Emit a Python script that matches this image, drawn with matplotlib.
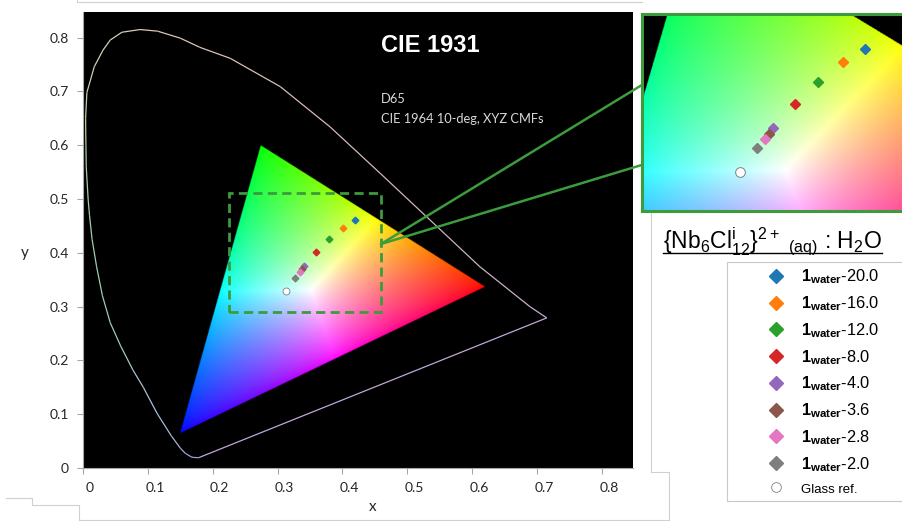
import numpy as np
import matplotlib
matplotlib.use("Agg")
import matplotlib.pyplot as plt
from matplotlib.collections import LineCollection
from matplotlib.colors import LinearSegmentedColormap
from matplotlib.lines import Line2D
from matplotlib.patches import Rectangle, ConnectionPatch
from matplotlib.transforms import ScaledTranslation

plt.rcParams['mathtext.fontset'] = 'custom'
plt.rcParams['mathtext.rm'] = 'Liberation Sans'
plt.rcParams['mathtext.it'] = 'Liberation Sans:italic'
plt.rcParams['mathtext.bf'] = 'Liberation Sans:bold'

W, H = 902, 521

# measured chromaticities (x, y) of the samples
sample_names = ["20.0", "16.0", "12.0", "8.0", "4.0", "3.6", "2.8", "2.0"]
sample_x = [0.420, 0.401, 0.380, 0.360, 0.341, 0.338, 0.334, 0.327]
sample_y = [0.461, 0.447, 0.425, 0.402, 0.376, 0.370, 0.364, 0.354]
sample_colors = ["#1f77b4", "#ff7f0e", "#2ca02c", "#d62728",
                 "#9467bd", "#8c564b", "#e377c2", "#7f7f7f"]
glass_x = [0.3127]
glass_y = [0.3290]

# gamut triangle corners (R, G, B) and its white point as drawn
gamut_x = [0.620, 0.274, 0.1496]
gamut_y = [0.337, 0.600, 0.0645]
gamut_white = (0.352, 0.331)

# spectral locus outline
locus_x = [0.178, 0.168, 0.158, 0.150, 0.136, 0.114, 0.093, 0.077, 0.058, 0.042,
           0.030, 0.021, 0.014, 0.010, 0.008, 0.005, 0.0045, 0.004, 0.006, 0.0174,
           0.031, 0.042, 0.060, 0.088, 0.115, 0.150, 0.180, 0.227, 0.304, 0.381,
           0.458, 0.535, 0.612, 0.689, 0.715, 0.178]
locus_y = [0.019, 0.020, 0.027, 0.037, 0.060, 0.102, 0.150, 0.182, 0.227, 0.270,
           0.320, 0.374, 0.425, 0.470, 0.498, 0.560, 0.600, 0.650, 0.698, 0.746,
           0.777, 0.7955, 0.810, 0.815, 0.812, 0.799, 0.782, 0.7615, 0.709, 0.634,
           0.548, 0.461, 0.374, 0.300, 0.279, 0.019]

zoom_box = (0.2256, 0.2905, 0.4595, 0.5106)
ticks = [0, 0.1, 0.2, 0.3, 0.4, 0.5, 0.6, 0.7, 0.8]
GREEN = "#3c9c3c"


def fx(px):
    return px / W


def fy(py):
    return 1 - py / H


def bary(X, Y):
    (x1, x2, x3), (y1, y2, y3) = gamut_x, gamut_y
    det = (y2 - y3) * (x1 - x3) + (x3 - x2) * (y1 - y3)
    l1 = ((y2 - y3) * (X - x3) + (x3 - x2) * (Y - y3)) / det
    l2 = ((y3 - y1) * (X - x3) + (x1 - x3) * (Y - y3)) / det
    return l1, l2, 1 - l1 - l2


def gamut_image(n=1500, top=0.85):
    g = np.linspace(0, top, n)
    X, Y = np.meshgrid(g, g)
    l1, l2, l3 = bary(X, Y)
    s1, s2, s3 = bary(np.array(gamut_white[0]), np.array(gamut_white[1]))
    rgb = np.stack([l1 / s1, l2 / s2, l3 / s3], axis=-1)
    inside = (l1 >= 0) & (l2 >= 0) & (l3 >= 0)
    rgb = np.clip(rgb, 0, None)
    rgb = rgb / np.maximum(rgb.max(axis=-1, keepdims=True), 1e-9)
    rgb = rgb ** (1 / 1.5)
    return np.dstack([np.clip(rgb, 0, 1), inside.astype(float)]), top


fig = plt.figure(figsize=(W / 100, H / 100), dpi=100)
fig.patch.set_facecolor("white")

img, top = gamut_image()

ax = fig.add_axes([fx(83), fy(468), (633 - 83) / W, (468 - 12) / H])
ax.set_facecolor("black")
ax.imshow(img, extent=(0, top, 0, top), origin="lower", interpolation="bilinear",
          aspect="auto", zorder=1)

# locus outline with soft spectral tint
pts = np.column_stack([locus_x, locus_y])
segs = np.stack([pts[:-1], pts[1:]], axis=1)
loc_cmap = LinearSegmentedColormap.from_list(
    "loc", ["#9a9ad8", "#a8c0dc", "#a0ccb0", "#a8d0a0", "#d0d0b8", "#dcc8b8",
            "#d8b8b8", "#c0a8d8"])
lc = LineCollection(segs, colors=loc_cmap(np.linspace(0, 1, len(segs))),
                    linewidths=0.9, zorder=2)
ax.add_collection(lc)

for sx, sy, c, name in zip(sample_x, sample_y, sample_colors, sample_names):
    ax.plot(sx, sy, "D", color=c, markersize=3.4, zorder=4)
ax.plot(glass_x, glass_y, "o", mfc="white", mec="#808080", mew=0.6,
        markersize=5, zorder=4)

x0, y0, x1, y1 = zoom_box
ax.add_patch(Rectangle((x0, y0), x1 - x0, y1 - y0, fill=False, ec=GREEN, lw=2.0,
                       ls=(0, (3.3, 1.9)), zorder=5))

ax.set_xlim(0, 0.848)
ax.set_ylim(0, 0.8476)
ax.set_xticks(ticks)
ax.set_yticks(ticks)
ax.set_xticklabels([f"{t:g}" for t in ticks])
ax.set_yticklabels([f"{t:g}" for t in ticks])
for s in ["top", "right"]:
    ax.spines[s].set_visible(False)
for s in ["left", "bottom"]:
    ax.spines[s].set_color("#a6a6a6")
    ax.spines[s].set_linewidth(0.8)
ax.tick_params(length=4, width=0.8, color="#a6a6a6", labelcolor="#262626",
               labelsize=10, pad=6.3)
for lbl in ax.get_xticklabels() + ax.get_yticklabels():
    lbl.set_family("Lato")
off = ScaledTranslation(7 / 100, 0, fig.dpi_scale_trans)
for t in ax.xaxis.get_major_ticks():
    t.label1.set_transform(t.label1.get_transform() + off)

ax.set_xlabel("x", family="Lato", fontsize=11, color="#262626")
ax.set_ylabel("y", family="Lato", fontsize=11, color="#262626", rotation=0)
ax.xaxis.set_label_coords((373 - 83) / 550, (468 - 507) / 456)
ax.xaxis.label.set_va("center")
ax.yaxis.set_label_coords((25 - 83) / 550, (468 - 253) / 456)
ax.yaxis.label.set_va("center")
ax.yaxis.label.set_ha("center")

fig.text(fx(380.7), fy(52.3), "CIE 1931", family="Liberation Sans",
         weight="bold", fontsize=17, color="white", va="baseline")
fig.text(fx(380.7), fy(103.3), "D65", family="Lato", fontsize=9.3,
         color="#d9d9d9", va="baseline")
fig.text(fx(380.7), fy(123.3), "CIE 1964 10-deg, XYZ CMFs", family="Lato",
         fontsize=9.3, color="#d9d9d9", va="baseline")

# magnified inset
axin = fig.add_axes([fx(642), fy(211), (904 - 642) / W, (211 - 14) / H])
axin.set_facecolor("black")
axin.imshow(img, extent=(0, top, 0, top), origin="lower", interpolation="bilinear",
            aspect="auto", zorder=1)
for sx, sy, c in zip(sample_x, sample_y, sample_colors):
    axin.plot(sx, sy, "D", color=c, markersize=5.1, zorder=4)
axin.plot(glass_x, glass_y, "o", mfc="white", mec="#808080", mew=0.7,
          markersize=7, zorder=4)
axin.set_xlim(0.2287, 0.2287 + 262 / 1166)
axin.set_ylim(0.2867, 0.2867 + 197 / 929.5)
axin.set_xticks([])
axin.set_yticks([])
for s in axin.spines.values():
    s.set_color(GREEN)
    s.set_linewidth(2.2)

for fr in (0.64, 0.234):
    con = ConnectionPatch(xyA=(x1, 0.4164), coordsA=ax.transData,
                          xyB=(0, fr), coordsB=axin.transAxes,
                          color=GREEN, lw=1.8, zorder=6)
    fig.add_artist(con)

# legend box, title and entries
fig.add_artist(Rectangle((fx(727), fy(501)), (915 - 727) / W, (501 - 262) / H,
                         transform=fig.transFigure, fc="white", ec="#c8c8c8",
                         lw=0.8))
title = fig.text(fx(662.7), fy(249.3),
                 r"{Nb$_{6}$Cl$^{\mathrm{i}}_{12}$}$^{2+}$ ${}_{\mathrm{(aq)}}$ : H$_{2}$O",
                 family="Liberation Sans", fontsize=16.5, color="black", va="baseline")

handles = [Line2D([], [], marker="D", ls="none", color=c, markersize=7.1)
           for c in sample_colors]
handles.append(Line2D([], [], marker="o", ls="none", mfc="white", mec="#808080",
                      mew=0.6, markersize=7))
labels = [r"$\mathbf{1}_{\mathbf{water}}$-" + n for n in sample_names] + ["Glass ref."]
leg = fig.legend(handles, labels, loc="upper left",
                 bbox_to_anchor=(fx(745), fy(253)), frameon=False,
                 borderpad=0.4, handlelength=2, handletextpad=0.5,
                 labelspacing=0.49, prop={"family": "Liberation Sans", "size": 11.8})
leg.get_texts()[-1].set_fontsize(9.5)

# underline for the legend title
fig.canvas.draw()
bb = title.get_window_extent()
fig.add_artist(Line2D([bb.x0 / W, bb.x1 / W], [fy(252.5), fy(252.5)],
                      transform=fig.transFigure, color="black", lw=1.0))

# outline of the pasted panels
frame = [
    ([6, 31.7, 31.7, 79.3, 79.3], [497.7, 497.7, 505, 505, 521]),
    ([79.3, 669], [519.5, 519.5]),
    ([650.7, 650.7, 669, 669], [213, 472, 472, 521]),
    ([77, 77, 642], [0, 2, 2]),
]
for xs, ys in frame:
    fig.add_artist(Line2D([fx(v) for v in xs], [fy(v) for v in ys],
                          transform=fig.transFigure, color="#d0d0d0", lw=0.8))

fig.savefig("out.png", dpi=100)
